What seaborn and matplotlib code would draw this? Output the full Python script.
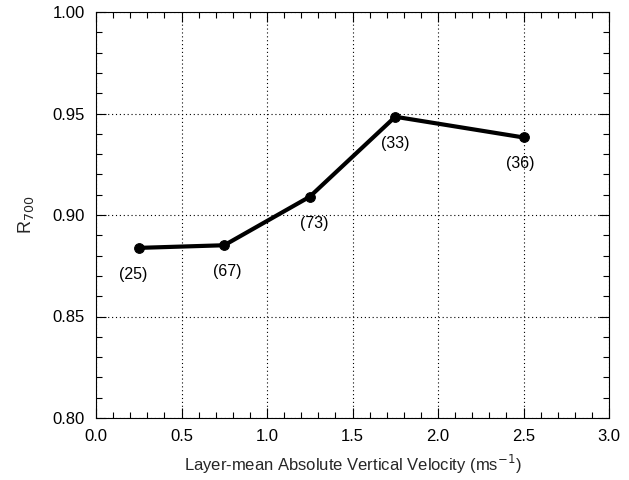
import matplotlib
matplotlib.use("Agg")
import matplotlib.pyplot as plt
import seaborn as sns
import pandas as pd
from matplotlib.ticker import MultipleLocator

velocity = [0.25, 0.75, 1.25, 1.75, 2.5]
r700 = [0.8838, 0.8851, 0.9090, 0.9484, 0.9382]
counts = ["(25)", "(67)", "(73)", "(33)", "(36)"]

sns.set_theme(style="ticks")
plt.rcParams['font.family'] = ['Liberation Sans', 'DejaVu Sans']

df = pd.DataFrame({"v": velocity, "r": r700})

fig = plt.figure(figsize=(6.29, 4.8), dpi=100)
ax = fig.add_axes([96/629, 1 - 418/480, (609-96)/629, (418-12)/480])

sns.lineplot(data=df, x="v", y="r", ax=ax, color="black", linewidth=3.0,
             marker="o", markersize=7, markeredgecolor="black", zorder=5)

label_dx = [-4, 2, 3, 0, -2]
for x, y, t, dx in zip(velocity, r700, counts, label_dx):
    ax.annotate(t, (x, y), xytext=(dx, -19), textcoords="offset points",
                ha="center", va="center", fontsize=11.5, color="black")

ax.set_xlim(0, 3)
ax.set_ylim(0.80, 1.00)
ax.xaxis.set_major_locator(MultipleLocator(0.5))
ax.xaxis.set_minor_locator(MultipleLocator(0.1))
ax.yaxis.set_major_locator(MultipleLocator(0.05))
ax.yaxis.set_minor_locator(MultipleLocator(0.01))
ax.xaxis.set_major_formatter(matplotlib.ticker.FormatStrFormatter("%.1f"))
ax.yaxis.set_major_formatter(matplotlib.ticker.FormatStrFormatter("%.2f"))

ax.tick_params(which="both", direction="in", top=True, right=True, colors="black",
               labelsize=12, width=0.8)
ax.tick_params(which="major", length=7, pad=8)
ax.tick_params(which="minor", length=4)

ax.grid(True, which="major", linestyle=(0, (1, 2.5)), color="black", linewidth=0.8)
for s in ax.spines.values():
    s.set_color("black")
    s.set_linewidth(0.8)

ax.set_xlabel("Layer-mean Absolute Vertical Velocity (ms$^{-1}$)", fontsize=12, labelpad=6)
ax.set_ylabel("R$_{700}$", fontsize=13, labelpad=12)

fig.savefig("out.png", dpi=100)
